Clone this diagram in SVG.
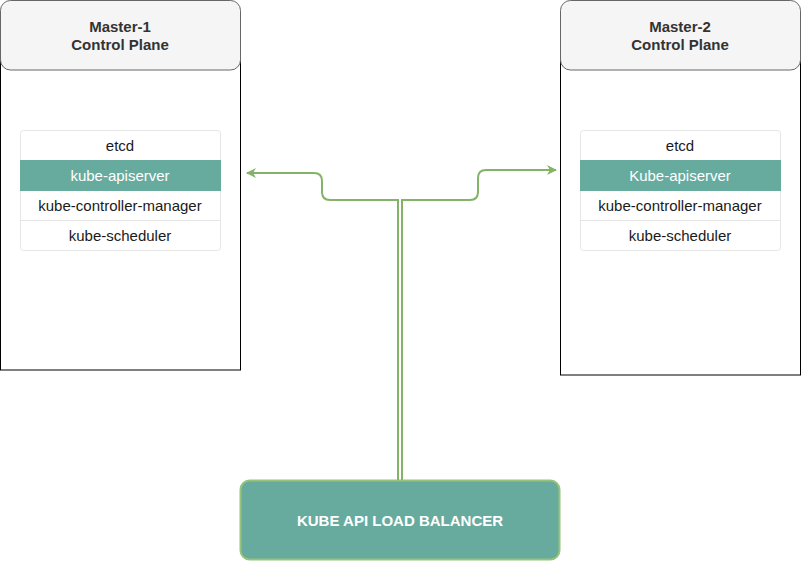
<svg xmlns="http://www.w3.org/2000/svg" width="801" height="561" viewBox="0 0 801 561">
<style>
text{font-family:"Liberation Sans",Arial,sans-serif;font-size:15px;text-anchor:middle}
.hdr{fill:#f5f5f5;stroke:#666666;stroke-width:1}
.outer{fill:#ffffff;stroke:#000000;stroke-width:1}
.ht{font-weight:bold;fill:#333333}
.row{fill:#ffffff;stroke:#e6e6e6;stroke-width:1}
.hl{fill:#67ab9f;stroke:#67ab9f}
.rt{fill:#1a1a1a}
.wt{fill:#ffffff}
.conn{fill:none;stroke:#82b366;stroke-width:2}
</style>
<defs>
<marker id="arr" viewBox="0 0 10 10" refX="9" refY="5" markerWidth="5" markerHeight="5" orient="auto" markerUnits="strokeWidth">
<path d="M0,0 L10,5 L0,10 L3,5 Z" fill="#82b366"/>
</marker>
</defs>
<g id="master1">
<rect class="outer" x="0.5" y="40" width="240" height="330"/>
<rect class="hdr" x="0.5" y="0.5" width="240" height="69.5" rx="10"/>
<text class="ht" x="120" y="32">Master-1</text>
<text class="ht" x="120" y="50">Control Plane</text>
<rect class="row" x="20.5" y="130.5" width="200" height="120" rx="3"/>
<rect class="hl" x="20.5" y="160.5" width="200" height="30"/>
<line x1="20.5" y1="220.5" x2="220.5" y2="220.5" stroke="#e6e6e6"/>
<text class="rt" x="120" y="151">etcd</text>
<text class="wt" x="120" y="181">kube-apiserver</text>
<text class="rt" x="120" y="211">kube-controller-manager</text>
<text class="rt" x="120" y="241">kube-scheduler</text>
</g>
<g id="master2">
<rect class="outer" x="560.5" y="40" width="240" height="335"/>
<rect class="hdr" x="560.5" y="0.5" width="240" height="69.5" rx="10"/>
<text class="ht" x="680" y="32">Master-2</text>
<text class="ht" x="680" y="50">Control Plane</text>
<rect class="row" x="580.5" y="130.5" width="200" height="120" rx="3"/>
<rect class="hl" x="580.5" y="160.5" width="200" height="30"/>
<line x1="580.5" y1="220.5" x2="780.5" y2="220.5" stroke="#e6e6e6"/>
<text class="rt" x="680" y="151">etcd</text>
<text class="wt" x="680" y="181">Kube-apiserver</text>
<text class="rt" x="680" y="211">kube-controller-manager</text>
<text class="rt" x="680" y="241">kube-scheduler</text>
</g>
<g id="lb">
<rect x="240.5" y="480.5" width="319" height="79" rx="9" fill="#67ab9f" stroke="#97c47a" stroke-width="2"/>
<text x="400" y="526" fill="#ffffff" font-weight="bold">KUBE API LOAD BALANCER</text>
</g>
<g id="connectors">
<path class="conn" d="M398,480 V200 H330 Q322,200 322,192 V181 Q322,173 314,173 H247" marker-end="url(#arr)"/>
<path class="conn" d="M402,480 V200 H470 Q478,200 478,192 V178 Q478,170 486,170 H556" marker-end="url(#arr)"/>
</g>
</svg>
